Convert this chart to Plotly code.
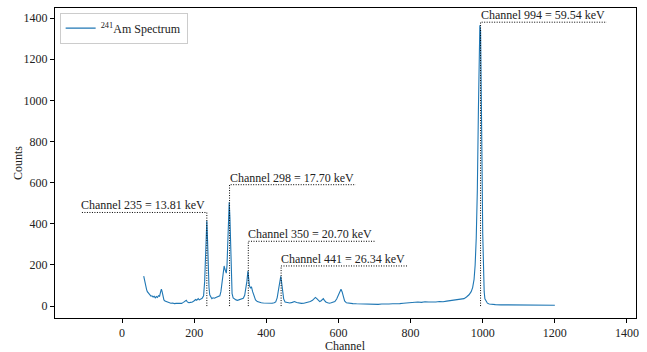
import plotly.graph_objects as go

channels = [60, 62, 64, 66, 68, 70, 72, 75, 78, 80, 83, 86, 89, 92, 95, 98, 101, 104, 107, 109, 111, 113, 116, 119, 122, 126, 130, 135, 140, 145, 150, 155, 160, 165, 170, 175, 178, 181, 185, 190, 195, 200, 204, 207, 211, 214, 218, 222, 226, 229, 231, 233, 235, 237, 239, 241, 243, 246, 249, 252, 256, 260, 264, 268, 271, 274, 277, 280, 283, 285, 287, 289, 291, 293, 295, 297, 299, 301, 303, 305, 308, 312, 316, 320, 324, 328, 332, 336, 340, 343, 346, 349, 351, 353, 356, 359, 362, 366, 370, 375, 380, 386, 392, 398, 404, 410, 416, 422, 426, 430, 434, 437, 440, 442, 445, 448, 452, 458, 465, 472, 478, 484, 490, 497, 504, 510, 516, 522, 528, 532, 536, 540, 544, 548, 552, 555, 558, 561, 565, 570, 575, 580, 585, 590, 595, 600, 604, 607, 610, 613, 617, 622, 630, 640, 650, 660, 670, 680, 690, 700, 710, 720, 730, 740, 750, 760, 770, 780, 790, 800, 810, 820, 830, 840, 850, 860, 870, 880, 890, 900, 910, 920, 930, 940, 948, 955, 962, 968, 972, 976, 979, 982, 985, 988, 990, 992, 994, 996, 998, 1000, 1002, 1004, 1006, 1009, 1013, 1018, 1025, 1035, 1050, 1070, 1090, 1110, 1130, 1150, 1170, 1190, 1200]
counts = [146, 130, 100, 92, 80, 70, 66, 58, 52, 48, 50, 44, 48, 40, 46, 42, 50, 48, 70, 82, 70, 48, 30, 24, 22, 18, 16, 14, 15, 12, 13, 12, 14, 13, 18, 26, 28, 20, 16, 18, 20, 26, 32, 28, 36, 30, 34, 38, 50, 120, 220, 340, 415, 320, 180, 90, 55, 40, 36, 40, 38, 42, 44, 48, 50, 70, 110, 170, 195, 180, 165, 160, 200, 300, 430, 505, 430, 250, 110, 60, 40, 34, 30, 28, 30, 32, 34, 38, 52, 80, 120, 170, 140, 100, 88, 92, 70, 45, 30, 22, 18, 16, 15, 14, 15, 13, 14, 16, 20, 40, 80, 120, 145, 120, 70, 35, 20, 16, 15, 18, 22, 17, 14, 13, 14, 16, 18, 22, 28, 36, 42, 36, 28, 22, 26, 32, 36, 28, 20, 16, 14, 16, 18, 22, 34, 58, 76, 82, 70, 45, 25, 16, 13, 12, 11, 10, 10, 9, 8, 9, 8, 10, 9, 10, 11, 10, 12, 14, 16, 18, 17, 20, 18, 21, 20, 19, 20, 22, 21, 24, 26, 28, 30, 32, 36, 44, 55, 70, 90, 130, 200, 330, 560, 950, 1250, 1365, 1340, 1100, 700, 350, 150, 70, 35, 22, 14, 10, 8, 7, 6, 6, 5, 5, 5, 5, 4, 4, 4]

peak_channels = [235, 298, 350, 441, 994]
peak_energies = ["13.81", "17.70", "20.70", "26.34", "59.54"]
label_heights = [455, 590, 315, 195, 1380]
label_direction = [-1, 1, 1, 1, 1]
label_span = 350

tick_values = [0, 200, 400, 600, 800, 1000, 1200, 1400]

font_family = "Liberation Serif, DejaVu Serif, serif"

fig = go.Figure()
fig.add_trace(go.Scatter(x=channels, y=counts, mode="lines",
                         line=dict(color="#1f77b4", width=1.1),
                         name="<sup>241</sup>Am Spectrum"))

for ch, en, h, d in zip(peak_channels, peak_energies, label_heights, label_direction):
    end = ch + d * label_span
    fig.add_trace(go.Scatter(x=[ch, ch, end], y=[0, h, h], mode="lines",
                             line=dict(color="black", width=1, dash="1px,1.5px"),
                             showlegend=False, hoverinfo="skip"))
    fig.add_annotation(x=min(ch, end), y=h, xref="x", yref="y",
                       text=f"Channel {ch} = {en} keV", showarrow=False,
                       xanchor="left", yanchor="bottom", yshift=-2, xshift=-2,
                       font=dict(family=font_family, size=12, color="#222"))

# axis titles placed as annotations (axis automargin disabled)
fig.add_annotation(x=0.5, y=-0.09, xref="paper", yref="paper",
                   text="Channel", showarrow=False, xanchor="center", yanchor="middle",
                   font=dict(family=font_family, size=12, color="#222"))
fig.add_annotation(x=-0.0637, y=0.5, xref="paper", yref="paper",
                   text="Counts", showarrow=False, xanchor="center", yanchor="middle",
                   textangle=-90,
                   font=dict(family=font_family, size=12, color="#222"))

fig.update_layout(
    width=647, height=352,
    margin=dict(l=55, r=11, t=8, b=34),
    paper_bgcolor="white", plot_bgcolor="white",
    font=dict(family=font_family, size=12, color="#222"),
    showlegend=True,
    legend=dict(x=0.008, y=0.985, xanchor="left", yanchor="top",
                bgcolor="white", bordercolor="#cccccc", borderwidth=1,
                tracegroupgap=0, itemwidth=30,
                font=dict(family=font_family, size=12)),
)
fig.update_xaxes(range=[-186, 1425], tickmode="array", tickvals=tick_values,
                 ticks="outside", ticklen=4, tickcolor="black",
                 showline=True, linecolor="black", linewidth=1, mirror=True,
                 showgrid=False, zeroline=False, automargin=False)
fig.update_yaxes(range=[-58, 1449], tickmode="array", tickvals=tick_values,
                 ticks="outside", ticklen=4, tickcolor="black",
                 showline=True, linecolor="black", linewidth=1, mirror=True,
                 showgrid=False, zeroline=False, automargin=False)

fig.write_html("out.html")
